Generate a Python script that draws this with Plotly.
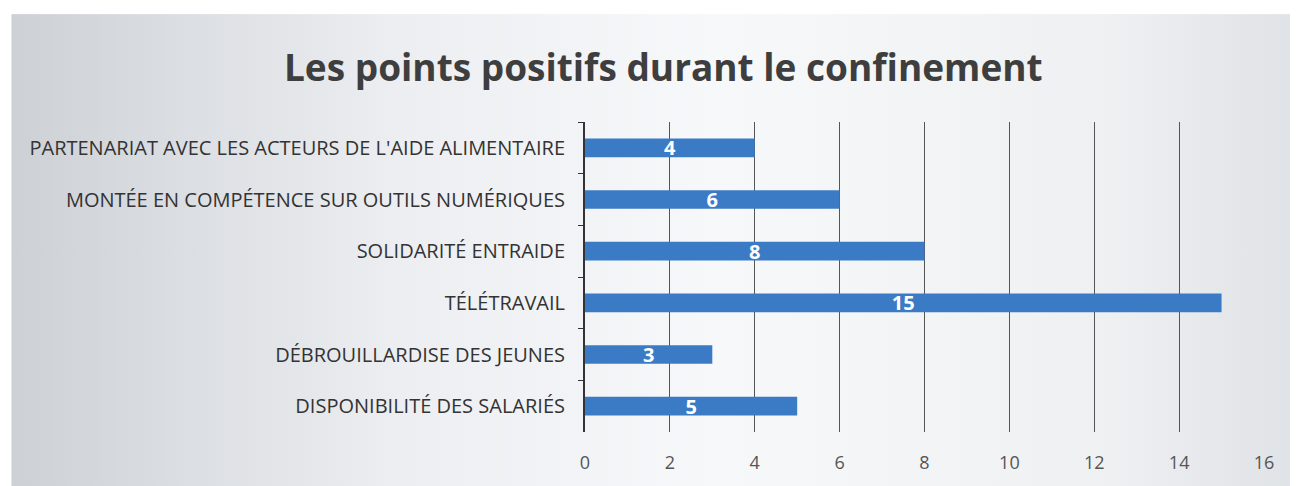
import base64
import plotly.graph_objects as go

categories = [
    "PARTENARIAT AVEC LES ACTEURS DE L'AIDE ALIMENTAIRE",
    "MONTÉE EN COMPÉTENCE SUR OUTILS NUMÉRIQUES",
    "SOLIDARITÉ ENTRAIDE",
    "TÉLÉTRAVAIL",
    "DÉBROUILLARDISE DES JEUNES",
    "DISPONIBILITÉ DES SALARIÉS",
]
values = [4, 6, 8, 15, 3, 5]
x_ticks = [0, 2, 4, 6, 8, 10, 12, 14, 16]

# soft grey backdrop like the scanned slide
svg = (
    '<svg xmlns="http://www.w3.org/2000/svg" width="100" height="100" preserveAspectRatio="none">'
    '<defs><linearGradient id="g" x1="0" y1="0" x2="1" y2="0">'
    '<stop offset="0" stop-color="#cdd1d6"/>'
    '<stop offset="0.3" stop-color="#eceef1"/>'
    '<stop offset="0.55" stop-color="#f7f8fa"/>'
    '<stop offset="0.85" stop-color="#eef0f2"/>'
    '<stop offset="1" stop-color="#dfe2e6"/>'
    '</linearGradient></defs>'
    '<rect width="100" height="100" fill="url(#g)"/></svg>'
)
bg_src = "data:image/svg+xml;base64," + base64.b64encode(svg.encode()).decode()

fig = go.Figure(
    go.Bar(
        x=values,
        y=categories,
        orientation="h",
        marker=dict(color="#3b7bc6", line=dict(width=0)),
        text=[str(v) for v in values],
        textposition="inside",
        insidetextanchor="middle",
        textangle=0,
        constraintext="none",
        cliponaxis=False,
        textfont=dict(color="white", size=20, family="Open Sans", weight="bold"),
        width=0.36,
    )
)

fig.add_layout_image(
    source=bg_src,
    xref="paper", yref="paper",
    x=-0.845, y=1.348,
    sizex=1.9, sizey=1.53,
    xanchor="left", yanchor="top",
    sizing="stretch",
    layer="below",
)

fig.update_layout(
    width=1290,
    height=478,
    paper_bgcolor="white",
    plot_bgcolor="rgba(0,0,0,0)",
    margin=dict(l=577, r=34, t=114, b=54),
    title=dict(
        text="Les points positifs durant le confinement",
        x=0.508,
        xanchor="center",
        y=0.874,
        yanchor="middle",
        font=dict(family="Open Sans", size=37, color="#3e3e3e", weight="bold"),
    ),
    showlegend=False,
    xaxis=dict(
        range=[0, 16],
        tickvals=x_ticks,
        showgrid=True,
        gridcolor="#555555",
        gridwidth=1,
        zeroline=False,
        tickfont=dict(family="Open Sans", size=18, color="#555555"),
        ticks="",
        ticklabelstandoff=18,
    ),
    yaxis=dict(
        autorange="reversed",
        showline=True,
        linecolor="#333333",
        linewidth=2,
        ticks="outside",
        ticklen=5,
        tickcolor="#333333",
        tickson="boundaries",
        tickfont=dict(family="Open Sans", size=20, color="#333333"),
        ticklabelstandoff=14,
    ),
)

fig.write_html("out.html")
